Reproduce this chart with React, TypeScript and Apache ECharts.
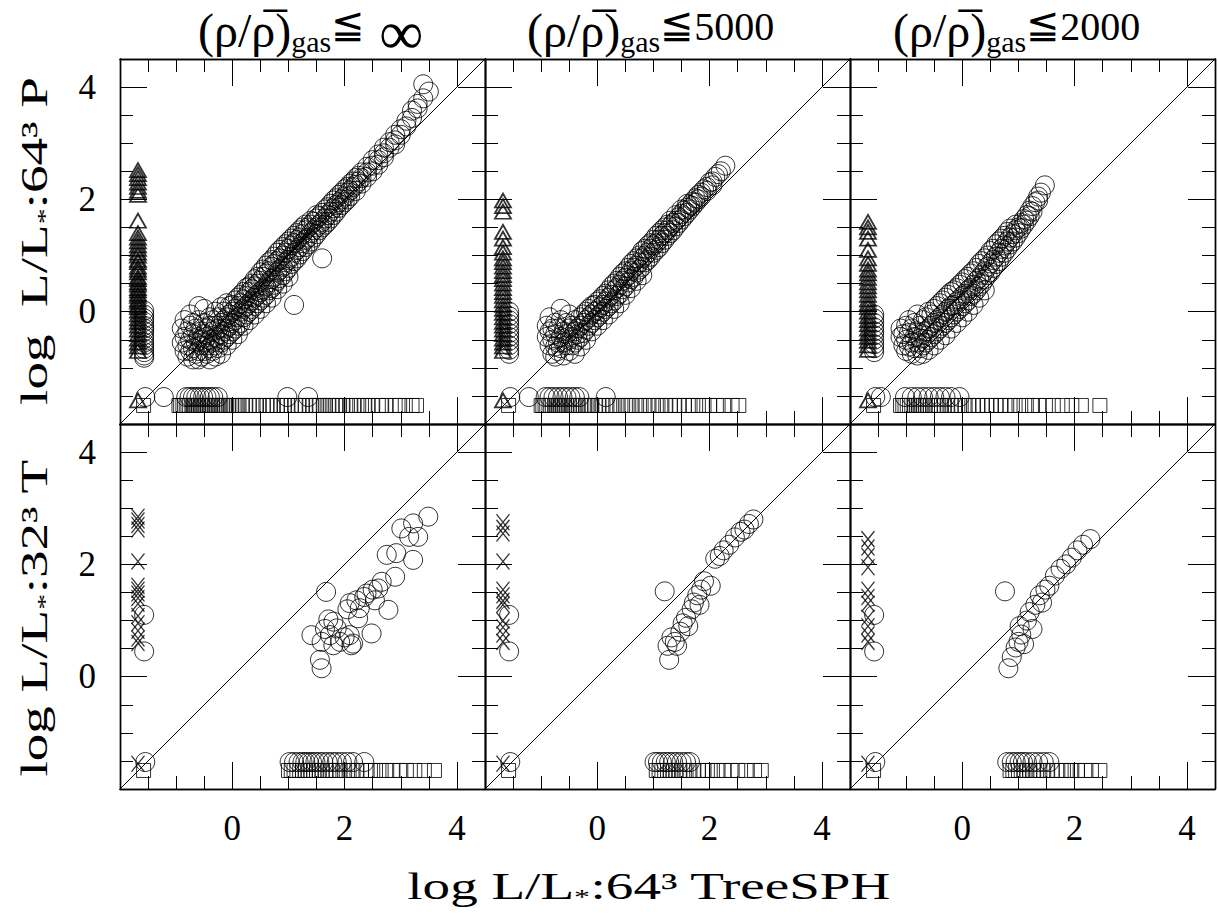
import React, { useEffect, useRef } from 'react';
import * as echarts from 'echarts';

// ---------- axes ----------
const AXIS_MIN = -2;
const AXIS_MAX = 4.5;
const MINOR_STEP = 0.5;
const MAJOR_STEP = 2;
const TICK_LABELS = [0, 2, 4];

// ---------- texts ----------
const COLUMN_CUTS = ['∞', '5000', '2000'];
const ROW_Y_TITLES = ['log  L/L{s|*}:64³ P', 'log L/L{s|*}:32³ T'];
const X_TITLE = 'log L/L{s|*}:64³ TreeSPH';

// ---------- non-detection placement values ----------
const ND_X_TRI = -1.68; // triangles / crosses column
const ND_X_CIRC = -1.57; // circles column
const ND_Y_CIRC = -1.52; // circles row
const ND_Y_SQ = -1.67; // squares row

// Clouds are written as [x, [y values at that x]]
type Bin = [number, number[]];

// ================= Panel A : top-left (∞, 64³ P) =================
const A_cloud: Bin[] = [
  [-0.9, [-0.55, -0.3]], [-0.85, [-0.7, -0.15, -0.45]], [-0.8, [-0.6, -0.35, -0.8]],
  [-0.75, [-0.5, -0.25, -0.7, -0.05]], [-0.7, [-0.65, -0.4, -0.85, -0.2]], [-0.65, [-0.55, -0.3, -0.75]],
  [-0.6, [-0.45, -0.7, -0.15, -0.85, 0.1]], [-0.55, [-0.6, -0.35, -0.5, -0.8]], [-0.5, [-0.7, -0.4, -0.2, -0.55, 0.05]],
  [-0.45, [-0.6, -0.3, -0.75, -0.45]], [-0.4, [-0.5, -0.25, -0.65, -0.85, -0.1]], [-0.35, [-0.55, -0.35, -0.7, -0.15]],
  [-0.3, [-0.45, -0.6, -0.25, -0.8, 0.0]], [-0.25, [-0.5, -0.3, -0.65, -0.1]], [-0.2, [-0.4, -0.2, -0.55, -0.75, 0.08]],
  [-0.15, [-0.35, -0.5, -0.15, 0.0]], [-0.1, [-0.3, -0.45, -0.1, -0.6, 0.15]], [-0.05, [-0.25, -0.4, -0.05, 0.1]],
  [0.0, [-0.2, -0.35, 0.0, -0.5, 0.12]], [0.05, [-0.15, 0.05, -0.3, 0.2]], [0.1, [-0.1, 0.1, -0.25, 0.25, -0.4]],
  [0.15, [0.0, -0.2, 0.15, 0.3]], [0.2, [0.05, -0.1, 0.22, 0.35, -0.25]], [0.25, [0.1, 0.28, -0.05, 0.42]],
  [0.3, [0.15, 0.35, 0.0, 0.45, -0.15]], [0.35, [0.2, 0.4, 0.05, 0.5]], [0.4, [0.25, 0.45, 0.1, 0.58, -0.05]],
  [0.45, [0.3, 0.5, 0.15, 0.62]], [0.5, [0.35, 0.55, 0.2, 0.7, 0.05]], [0.55, [0.4, 0.62, 0.25, 0.75]],
  [0.6, [0.45, 0.68, 0.3, 0.82, 0.15]], [0.65, [0.52, 0.72, 0.38, 0.88]], [0.7, [0.58, 0.8, 0.42, 0.92, 0.25]],
  [0.75, [0.62, 0.85, 0.48, 0.98]], [0.8, [0.7, 0.9, 0.55, 1.05, 0.4]], [0.85, [0.75, 0.95, 0.6, 1.1]],
  [0.9, [0.8, 1.0, 0.65, 1.15, 0.5]], [0.95, [0.88, 1.05, 0.72, 1.2]], [1.0, [0.92, 1.12, 0.78, 1.25, 0.62]],
  [1.05, [0.98, 1.18, 0.85, 1.3]], [1.1, [1.05, 1.22, 0.9, 1.35, 0.12]], [1.15, [1.1, 1.28, 0.95, 1.4]],
  [1.2, [1.15, 1.32, 1.02, 1.45]], [1.25, [1.22, 1.38, 1.08, 1.5]], [1.3, [1.28, 1.45, 1.15, 1.55]],
  [1.35, [1.32, 1.5, 1.2]], [1.4, [1.4, 1.55, 1.25, 1.62]], [1.45, [1.45, 1.6, 1.32]], [1.5, [1.5, 1.66, 1.38, 1.72]],
  [1.55, [1.55, 1.7, 1.45]], [1.6, [1.6, 1.76, 1.5, 0.95]], [1.65, [1.66, 1.82, 1.55]], [1.7, [1.72, 1.86, 1.6]],
  [1.75, [1.78, 1.92, 1.66]], [1.8, [1.84, 1.98, 1.72]], [1.85, [1.9, 2.02, 1.78]], [1.9, [1.95, 2.08, 1.85]],
  [1.95, [2.0, 2.12, 1.9]], [2.0, [2.05, 2.18, 1.95]], [2.05, [2.12, 2.22, 2.0]], [2.1, [2.16, 2.28, 2.06]],
  [2.15, [2.22, 2.32]], [2.2, [2.26, 2.38, 2.15]], [2.25, [2.32, 2.42]], [2.3, [2.38, 2.48, 2.28]],
  [2.4, [2.48, 2.58, 2.4]], [2.5, [2.6, 2.7, 2.5]], [2.6, [2.7, 2.8, 2.62]], [2.7, [2.82, 2.92, 2.75]],
  [2.8, [2.92, 3.02]], [2.9, [3.05, 3.15, 2.98]], [3.0, [3.15, 3.25]], [3.1, [3.3, 3.4]], [3.2, [3.45, 3.58]],
  [3.3, [3.62, 3.7]], [3.4, [4.05, 3.8]], [3.5, [3.92]],
];
const A_leftTri = [2.52, 2.45, 2.38, 2.3, 2.22, 2.15, 2.08, 1.62, 1.4, 1.32, 1.25, 1.18, 1.12, 1.05, 1.0, 0.92, 0.88,
  0.8, 0.75, 0.7, 0.62, 0.58, 0.52, 0.48, 0.42, 0.38, 0.32, 0.28, 0.22, 0.18, 0.12, 0.08, 0.02, -0.05, -0.12, -0.18,
  -0.25, -0.32, -0.4, -0.48, -0.55, -0.62, -0.7, -1.58];
const A_leftCirc = [0.02, -0.05, -0.12, -0.18, -0.25, -0.3, -0.35, -0.42, -0.48, -0.55, -0.6, -0.66, -0.72, -0.78, -0.82];
const A_bottomCirc = [-1.55, -1.22, -0.82, -0.76, -0.7, -0.64, -0.58, -0.52, -0.46, -0.4, -0.34, -0.26, 0.98, 1.35];
const A_bottomSq = [-1.58, -0.95, -0.92, -0.88, -0.85, -0.82, -0.79, -0.76, -0.72, -0.69, -0.66, -0.63, -0.6, -0.57,
  -0.54, -0.5, -0.47, -0.44, -0.41, -0.38, -0.35, -0.31, -0.28, -0.25, -0.22, -0.18, -0.14, -0.1, -0.06, -0.02, 0.03,
  0.08, 0.12, 0.18, 0.24, 0.3, 0.35, 0.42, 0.48, 0.55, 0.62, 0.68, 0.72, 0.8, 0.86, 0.92, 0.98, 1.05, 1.12, 1.18, 1.24,
  1.3, 1.38, 1.44, 1.5, 1.56, 1.62, 1.66, 1.72, 1.78, 1.84, 1.9, 1.96, 2.02, 2.1, 2.16, 2.22, 2.3, 2.36, 2.42, 2.5, 2.6,
  2.66, 2.74, 2.9, 2.98, 3.08, 3.2, 3.28];

// ================= Panel B : top-middle (5000, 64³ P) =================
const B_cloud: Bin[] = [
  [-0.9, [-0.45, -0.25]], [-0.85, [-0.6, -0.35, -0.1]], [-0.8, [-0.5, -0.75, -0.3]], [-0.75, [-0.62, -0.4, -0.2, -0.8]],
  [-0.7, [-0.55, -0.3, -0.7]], [-0.65, [-0.45, -0.65, -0.15, 0.05]], [-0.6, [-0.55, -0.35, -0.78]],
  [-0.55, [-0.4, -0.6, -0.2]], [-0.5, [-0.5, -0.3, -0.7, -0.05]], [-0.45, [-0.45, -0.6, -0.25]],
  [-0.4, [-0.35, -0.55, -0.15, -0.75]], [-0.35, [-0.3, -0.5, -0.4]], [-0.3, [-0.25, -0.45, -0.1, -0.62]],
  [-0.25, [-0.2, -0.38, -0.05]], [-0.2, [-0.15, -0.32, 0.0, -0.5]], [-0.15, [-0.1, -0.25, 0.05]],
  [-0.1, [-0.05, -0.2, 0.1, -0.35]], [-0.05, [0.0, -0.15, 0.12]], [0.0, [0.02, -0.1, 0.18, -0.25]],
  [0.05, [0.08, -0.05, 0.22]], [0.1, [0.12, 0.0, 0.28, -0.15]], [0.15, [0.18, 0.05, 0.32]], [0.2, [0.25, 0.1, 0.38, -0.05]],
  [0.25, [0.3, 0.15, 0.45]], [0.3, [0.38, 0.2, 0.5, 0.05]], [0.35, [0.42, 0.28, 0.55]], [0.4, [0.48, 0.32, 0.62, 0.15]],
  [0.45, [0.55, 0.4, 0.68]], [0.5, [0.6, 0.45, 0.72, 0.3]], [0.55, [0.65, 0.52, 0.78]], [0.6, [0.72, 0.58, 0.85, 0.42]],
  [0.65, [0.78, 0.62, 0.9]], [0.7, [0.82, 0.7, 0.95, 0.55]], [0.75, [0.88, 0.75, 1.0]], [0.8, [0.95, 0.8, 1.08, 0.65]],
  [0.85, [1.0, 0.88, 1.12]], [0.9, [1.05, 0.92, 1.18]], [0.95, [1.12, 0.98, 1.22]], [1.0, [1.18, 1.05, 1.28]],
  [1.05, [1.22, 1.1, 1.35]], [1.1, [1.28, 1.15, 1.4]], [1.15, [1.35, 1.22, 1.45]], [1.2, [1.4, 1.28, 1.5]],
  [1.25, [1.45, 1.35, 1.55]], [1.3, [1.52, 1.4, 1.62]], [1.35, [1.58, 1.45]], [1.4, [1.62, 1.52, 1.72]],
  [1.45, [1.68, 1.58]], [1.5, [1.74, 1.64, 1.82]], [1.55, [1.8, 1.7]], [1.6, [1.85, 1.76, 1.92]], [1.65, [1.9, 1.82]],
  [1.7, [1.96, 1.88]], [1.75, [2.02, 1.94]], [1.8, [2.08, 2.0]], [1.85, [2.12, 2.05]], [1.9, [2.18]],
  [1.95, [2.22, 2.15]], [2.0, [2.3]], [2.05, [2.32, 2.25]], [2.1, [2.4]], [2.15, [2.45]], [2.2, [2.5]], [2.28, [2.6]],
];
const B_leftTri = [1.98, 1.88, 1.78, 1.42, 1.3, 1.15, 1.05, 0.95, 0.88, 0.8, 0.72, 0.65, 0.58, 0.5, 0.42, 0.35, 0.28,
  0.2, 0.12, 0.05, -0.02, -0.1, -0.18, -0.25, -0.32, -0.4, -0.48, -0.55, -0.62, -0.7, -1.58];
const B_leftCirc = [0.0, -0.08, -0.15, -0.22, -0.3, -0.38, -0.45, -0.52, -0.6, -0.68, -0.75];
const B_bottomCirc = [-1.55, -1.22, -0.92, -0.85, -0.78, -0.7, -0.62, -0.55, -0.48, -0.4, -0.32, 0.15];
const B_bottomSq = [-1.58, -1.0, -0.97, -0.93, -0.9, -0.86, -0.83, -0.8, -0.76, -0.72, -0.69, -0.65, -0.62, -0.58,
  -0.54, -0.5, -0.46, -0.42, -0.38, -0.34, -0.3, -0.25, -0.2, -0.15, -0.1, -0.04, 0.02, 0.08, 0.15, 0.22, 0.28, 0.35,
  0.42, 0.5, 0.56, 0.62, 0.7, 0.78, 0.85, 0.92, 1.0, 1.08, 1.15, 1.22, 1.3, 1.38, 1.46, 1.55, 1.62, 1.7, 1.8, 1.9,
  2.0, 2.12, 2.25, 2.4, 2.52];

// ================= Panel C : top-right (2000, 64³ P) =================
const C_cloud: Bin[] = [
  [-1.1, [-0.45, -0.3]], [-1.05, [-0.6, -0.4]], [-1.0, [-0.5, -0.25, -0.7]], [-0.95, [-0.62, -0.38, -0.15]],
  [-0.9, [-0.55, -0.75, -0.3]], [-0.85, [-0.45, -0.65, -0.2]], [-0.8, [-0.55, -0.35, -0.78, -0.05]],
  [-0.75, [-0.48, -0.65, -0.25]], [-0.7, [-0.4, -0.6, -0.15, -0.75]], [-0.65, [-0.35, -0.55, -0.1]],
  [-0.6, [-0.3, -0.5, -0.68, 0.0]], [-0.55, [-0.25, -0.45, -0.05]], [-0.5, [-0.2, -0.4, 0.05, -0.6]],
  [-0.45, [-0.15, -0.35, 0.1]], [-0.4, [-0.1, -0.3, 0.15, -0.5]], [-0.35, [-0.05, -0.25, 0.2]],
  [-0.3, [0.0, -0.2, 0.25, -0.42]], [-0.25, [0.05, -0.15, 0.3]], [-0.2, [0.1, -0.1, 0.35, -0.3]],
  [-0.15, [0.12, -0.05, 0.38]], [-0.1, [0.18, 0.0, 0.42, -0.2]], [-0.05, [0.22, 0.05, 0.48]],
  [0.0, [0.28, 0.1, 0.52, -0.1]], [0.05, [0.32, 0.15, 0.58]], [0.1, [0.38, 0.2, 0.62, 0.0]], [0.15, [0.42, 0.28, 0.68]],
  [0.2, [0.48, 0.32, 0.72, 0.12]], [0.25, [0.55, 0.38, 0.78]], [0.3, [0.6, 0.45, 0.85, 0.25]], [0.35, [0.66, 0.5, 0.9]],
  [0.4, [0.72, 0.58, 0.95, 0.38]], [0.45, [0.8, 0.65, 1.0]], [0.5, [0.86, 0.7, 1.08]], [0.55, [0.92, 0.78, 1.12]],
  [0.6, [0.98, 0.85, 1.2]], [0.65, [1.05, 0.9, 1.25]], [0.7, [1.12, 0.98, 1.3]], [0.75, [1.18, 1.05, 1.35]],
  [0.8, [1.25, 1.12, 1.42]], [0.85, [1.32, 1.2, 1.48]], [0.9, [1.38, 1.25]], [0.95, [1.45, 1.32, 1.55]],
  [1.0, [1.5, 1.4]], [1.05, [1.58, 1.48]], [1.1, [1.65, 1.55]], [1.15, [1.72, 1.62]], [1.2, [1.8, 1.7]],
  [1.25, [1.88, 1.78]], [1.3, [1.95]], [1.35, [2.05, 1.98]], [1.4, [2.12]], [1.47, [2.25]],
];
const C_leftTri = [1.6, 1.5, 1.42, 1.3, 1.1, 0.95, 0.85, 0.75, 0.68, 0.6, 0.52, 0.45, 0.38, 0.3, 0.22, 0.15, 0.08,
  0.0, -0.08, -0.15, -0.22, -0.3, -0.38, -0.45, -0.52, -0.6, -0.68, -1.58];
const C_leftCirc = [-0.05, -0.12, -0.2, -0.28, -0.35, -0.42, -0.5, -0.58, -0.65, -0.72];
const C_bottomCirc = [-1.55, -1.45, -1.02, -0.9, -0.8, -0.7, -0.6, -0.5, -0.4, -0.3, -0.2, -0.05];
const C_bottomSq = [-1.58, -1.1, -1.06, -1.02, -0.98, -0.94, -0.9, -0.86, -0.82, -0.78, -0.74, -0.7, -0.66, -0.62,
  -0.57, -0.52, -0.47, -0.42, -0.37, -0.32, -0.26, -0.2, -0.14, -0.08, -0.02, 0.05, 0.12, 0.2, 0.28, 0.36, 0.44, 0.52,
  0.6, 0.68, 0.76, 0.85, 0.94, 1.04, 1.14, 1.25, 1.36, 1.48, 1.62, 1.78, 1.95, 2.12, 2.45];

// ================= Panel D : bottom-left (∞, 32³ T) =================
const D_circles: number[][] = [
  [1.67, 1.51], [3.49, 2.85], [3.22, 2.73], [3.01, 2.64], [3.31, 2.49], [3.15, 2.49], [2.75, 2.17], [2.92, 2.2],
  [3.22, 2.08], [2.9, 1.78], [2.66, 1.69], [2.6, 1.57], [2.39, 1.48], [2.54, 1.36], [2.78, 1.19], [2.21, 1.36],
  [2.27, 1.22], [2.24, 1.04], [2.48, 0.77], [2.12, 0.56], [2.09, 0.74], [1.92, 0.62], [1.74, 0.74], [1.86, 0.86],
  [1.8, 0.98], [1.71, 1.02], [1.41, 0.74], [1.59, 0.62], [1.56, 0.3], [1.59, 0.15], [1.8, 0.56], [2.15, 0.59],
  [2.09, 1.31], [2.35, 1.42], [2.5, 1.55], [2.05, 1.2], [1.65, 0.85], [2.0, 0.7],
];
const D_leftCross = [2.85, 2.78, 2.7, 2.62, 2.05, 1.62, 1.55, 1.48, 1.4, 1.3, 1.08, 0.95, 0.82, 0.68, 0.6, -1.55];
const D_leftCirc = [1.1, 0.45];
const D_bottomCirc = [-1.55, 1.02, 1.1, 1.18, 1.25, 1.3, 1.36, 1.42, 1.48, 1.55, 1.62, 1.7, 1.78, 1.86, 1.95, 2.05,
  2.15, 2.35];
const D_bottomSq = [-1.58, 1.0, 1.05, 1.1, 1.15, 1.2, 1.25, 1.3, 1.35, 1.4, 1.45, 1.5, 1.55, 1.6, 1.66, 1.72, 1.78,
  1.85, 1.92, 2.0, 2.08, 2.15, 2.22, 2.3, 2.38, 2.46, 2.55, 2.65, 2.75, 2.86, 2.98, 3.1, 3.25, 3.42, 3.6];

// ================= Panel E : bottom-middle (5000, 32³ T) =================
const E_circles: number[][] = [
  [1.2, 1.52], [1.28, 0.3], [1.25, 0.55], [1.32, 0.7], [1.38, 0.62], [1.42, 0.55], [1.48, 0.8], [1.52, 0.95],
  [1.58, 1.05], [1.62, 0.9], [1.68, 1.2], [1.72, 1.32], [1.78, 1.45], [1.82, 1.28], [1.85, 1.55], [1.9, 1.7],
  [2.02, 1.62], [2.1, 2.1], [2.18, 2.15], [2.25, 2.25], [2.35, 2.35], [2.45, 2.48], [2.55, 2.58], [2.62, 2.62],
  [2.7, 2.72], [2.78, 2.8],
];
const E_leftCross = [2.75, 2.65, 2.55, 2.05, 1.55, 1.45, 1.35, 1.28, 1.0, 0.88, 0.75, 0.62, -1.55];
const E_leftCirc = [1.1, 0.45];
const E_bottomCirc = [-1.55, 1.02, 1.08, 1.15, 1.22, 1.28, 1.35, 1.42, 1.5, 1.58, 1.65];
const E_bottomSq = [-1.58, 1.05, 1.1, 1.15, 1.2, 1.25, 1.3, 1.35, 1.4, 1.46, 1.52, 1.58, 1.65, 1.72, 1.8, 1.88,
  1.96, 2.05, 2.15, 2.26, 2.38, 2.5, 2.65, 2.8, 2.92];

// ================= Panel F : bottom-right (2000, 32³ T) =================
const F_circles: number[][] = [
  [0.76, 1.52], [0.82, 0.15], [0.88, 0.35], [0.95, 0.52], [1.0, 0.62], [1.05, 0.75], [1.02, 0.9], [1.1, 0.58],
  [1.15, 1.0], [1.2, 1.15], [1.25, 0.85], [1.3, 1.28], [1.38, 1.45], [1.42, 1.32], [1.48, 1.55], [1.55, 1.62],
  [1.65, 1.8], [1.75, 1.92], [1.85, 2.0], [1.95, 2.12], [2.05, 2.25], [2.15, 2.35], [2.28, 2.45],
];
const F_leftCross = [2.45, 2.3, 2.15, 1.95, 1.55, 1.42, 1.3, 1.05, 0.9, 0.75, 0.62, -1.55];
const F_leftCirc = [1.1, 0.45];
const F_bottomCirc = [-1.55, 0.8, 0.88, 0.95, 1.02, 1.08, 1.15, 1.25, 1.35, 1.45, 1.55];
const F_bottomSq = [-1.58, 0.85, 0.9, 0.95, 1.0, 1.05, 1.1, 1.15, 1.2, 1.26, 1.32, 1.38, 1.45, 1.52, 1.6, 1.68,
  1.76, 1.85, 1.95, 2.05, 2.18, 2.3, 2.45];

const unbin = (bins: Bin[]) => bins.flatMap(([x, ys]) => ys.map((y) => [x, y]));

type Panel = {
  circles: number[][];
  leftMarks: number[];
  leftKind: 'tri' | 'cross';
  leftCirc: number[];
  bottomCirc: number[];
  bottomSq: number[];
};

const PANELS: Panel[] = [
  { circles: unbin(A_cloud), leftMarks: A_leftTri, leftKind: 'tri', leftCirc: A_leftCirc, bottomCirc: A_bottomCirc, bottomSq: A_bottomSq },
  { circles: unbin(B_cloud), leftMarks: B_leftTri, leftKind: 'tri', leftCirc: B_leftCirc, bottomCirc: B_bottomCirc, bottomSq: B_bottomSq },
  { circles: unbin(C_cloud), leftMarks: C_leftTri, leftKind: 'tri', leftCirc: C_leftCirc, bottomCirc: C_bottomCirc, bottomSq: C_bottomSq },
  { circles: D_circles, leftMarks: D_leftCross, leftKind: 'cross', leftCirc: D_leftCirc, bottomCirc: D_bottomCirc, bottomSq: D_bottomSq },
  { circles: E_circles, leftMarks: E_leftCross, leftKind: 'cross', leftCirc: E_leftCirc, bottomCirc: E_bottomCirc, bottomSq: E_bottomSq },
  { circles: F_circles, leftMarks: F_leftCross, leftKind: 'cross', leftCirc: F_leftCirc, bottomCirc: F_bottomCirc, bottomSq: F_bottomSq },
];

// ---------- layout / style ----------
const GRID_LEFT = [120, 485, 850];
const GRID_TOP = [59, 424];
const GRID_SIZE = 365;
const FONT = 'Liberation Serif';
const INK = '#000';

function makeAxis(kind: 'x' | 'y', grid: number, position: string, step: number, tickLen: number, labels: boolean) {
  return {
    type: 'value',
    gridIndex: grid,
    position,
    min: AXIS_MIN,
    max: AXIS_MAX,
    interval: step,
    axisLine: { show: true, onZero: false, lineStyle: { color: INK, width: 1.4 } },
    axisTick: { show: true, inside: true, length: tickLen, lineStyle: { color: INK, width: 1 } },
    axisLabel: {
      show: labels,
      color: INK,
      fontFamily: FONT,
      fontSize: 35,
      margin: kind === 'x' ? 22 : 24,
      formatter: (v: number) => (TICK_LABELS.indexOf(v) >= 0 ? String(v) : ''),
    },
    splitLine: { show: false },
  };
}

export default function App() {
  const ref = useRef<HTMLDivElement>(null);
  useEffect(() => {
    document.body.style.margin = '0';
    const chart = echarts.init(ref.current!, null, { renderer: 'svg' });

    const grids: any[] = [];
    const xAxes: any[] = [];
    const yAxes: any[] = [];
    const series: any[] = [];
    const hollow = { color: 'transparent', borderColor: INK, borderWidth: 1 };

    PANELS.forEach((p, i) => {
      const col = i % 3;
      const row = Math.floor(i / 3);
      grids.push({ left: GRID_LEFT[col], top: GRID_TOP[row], width: GRID_SIZE, height: GRID_SIZE, containLabel: false });
      xAxes.push(makeAxis('x', i, 'bottom', MINOR_STEP, 13, false));
      xAxes.push(makeAxis('x', i, 'bottom', MAJOR_STEP, 27, row === 1));
      xAxes.push(makeAxis('x', i, 'top', MINOR_STEP, 13, false));
      xAxes.push(makeAxis('x', i, 'top', MAJOR_STEP, 27, false));
      yAxes.push(makeAxis('y', i, 'left', MINOR_STEP, 13, false));
      yAxes.push(makeAxis('y', i, 'left', MAJOR_STEP, 27, col === 0));
      yAxes.push(makeAxis('y', i, 'right', MINOR_STEP, 13, false));
      yAxes.push(makeAxis('y', i, 'right', MAJOR_STEP, 27, false));
      const xi = i * 4;
      const yi = i * 4;
      series.push({
        type: 'line', xAxisIndex: xi, yAxisIndex: yi, silent: true, symbol: 'none',
        lineStyle: { color: INK, width: 1 },
        data: [[AXIS_MIN, AXIS_MIN], [AXIS_MAX, AXIS_MAX]],
      });
      series.push({
        type: 'scatter', xAxisIndex: xi, yAxisIndex: yi, silent: true, symbol: 'rect', symbolSize: [14, 14],
        itemStyle: hollow, data: p.bottomSq.map((x) => [x, ND_Y_SQ]),
      });
      if (p.leftKind === 'tri') {
        series.push({
          type: 'scatter', xAxisIndex: xi, yAxisIndex: yi, silent: true, symbol: 'triangle', symbolSize: [16, 14],
          itemStyle: { ...hollow, borderWidth: 1.8 }, data: p.leftMarks.map((y) => [ND_X_TRI, y]),
        });
      } else {
        series.push({
          type: 'scatter', xAxisIndex: xi, yAxisIndex: yi, silent: true,
          symbol: 'path://M0,0L10,10M10,0L0,10', symbolSize: [13, 16],
          itemStyle: { ...hollow, borderWidth: 1.3 }, data: p.leftMarks.map((y) => [ND_X_TRI, y]),
        });
      }
      series.push({
        type: 'scatter', xAxisIndex: xi, yAxisIndex: yi, silent: true, symbol: 'circle', symbolSize: 19,
        itemStyle: hollow,
        data: [
          ...p.circles,
          ...p.leftCirc.map((y) => [ND_X_CIRC, y]),
          ...p.bottomCirc.map((x) => [x, ND_Y_CIRC]),
        ],
      });
    });

    const titleRich = {
      p: { fontFamily: FONT, fontSize: 48, lineHeight: 56, fill: INK },
      s: { fontFamily: FONT, fontSize: 30, lineHeight: 56, verticalAlign: 'top', padding: [24, 0, 0, 0], fill: INK },
      r: { fontFamily: FONT, fontSize: 40, lineHeight: 56, verticalAlign: 'top', padding: [2, 0, 0, 0], fill: INK },
      n: { fontFamily: FONT, fontSize: 40, lineHeight: 56, verticalAlign: 'top', padding: [4, 0, 0, 0], fill: INK },
      inf: { fontFamily: FONT, fontSize: 62, lineHeight: 56, verticalAlign: 'top', padding: [0, 0, 0, 14], fill: INK },
    };
    const labelRich = {
      s: { fontFamily: FONT, fontSize: 22, verticalAlign: 'top', padding: [22, 0, 0, 0], fill: INK },
    };
    const titleLeft = [198, 527, 893];

    const graphic: any[] = [];
    COLUMN_CUTS.forEach((cut, c) => {
      const cutToken = cut === '∞' ? '{inf|' + cut + '}' : '{n|' + cut + '}';
      graphic.push({
        type: 'text', x: titleLeft[c], y: 2, silent: true,
        style: {
          text: '{p|(ρ/ρ\u0305)}{s|gas}{r|≦}' + cutToken,
          rich: titleRich, fill: INK, fontFamily: FONT, fontSize: 40,
        },
      });
    });
    ROW_Y_TITLES.forEach((t, r) => {
      graphic.push({
        type: 'text', x: 34, y: r === 0 ? 241 : 618, rotation: Math.PI / 2, scaleX: 1.45, silent: true,
        style: {
          text: t, rich: labelRich, fill: INK, fontFamily: FONT, fontSize: 38, lineHeight: 44,
          align: 'center', verticalAlign: 'middle',
        },
      });
    });
    graphic.push({
      type: 'text', x: 649, y: 886, scaleX: 1.45, silent: true,
      style: {
        text: X_TITLE, rich: labelRich, fill: INK, fontFamily: FONT, fontSize: 38, lineHeight: 44,
        align: 'center', verticalAlign: 'middle',
      },
    });

    chart.setOption({
      animation: false,
      backgroundColor: '#fff',
      grid: grids,
      xAxis: xAxes,
      yAxis: yAxes,
      series,
      graphic,
    });
    return () => chart.dispose();
  }, []);
  return <div ref={ref} style={{ width: 1218, height: 919 }} />;
}
